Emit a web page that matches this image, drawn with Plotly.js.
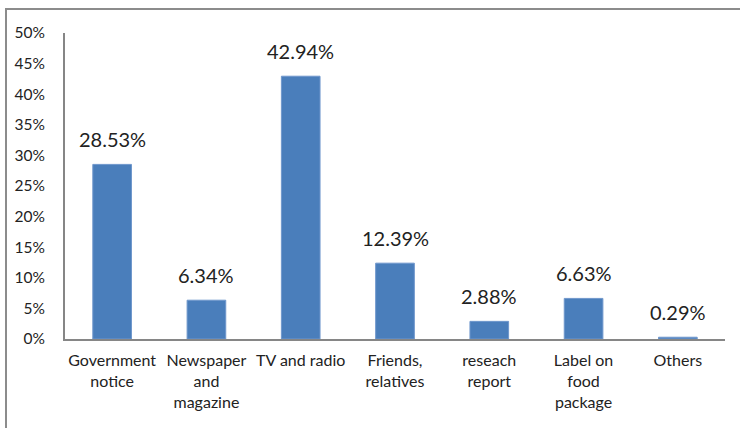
<!DOCTYPE html>
<html>
<head>
<meta charset="utf-8">
<script src="https://cdn.plot.ly/plotly-3.0.1.min.js"></script>
<style>
html,body{margin:0;padding:0;background:#fff;}
#chart{width:740px;height:428px;position:relative;}
#frame{position:absolute;left:5px;top:8px;width:760px;height:440px;border-left:2px solid #8c8c8c;border-top:2px solid #8c8c8c;pointer-events:none;}
</style>
</head>
<body>
<div id="chart"></div>
<div id="frame"></div>
<script>
const categories = ["Government<br>notice", "Newspaper<br>and<br>magazine", "TV and radio", "Friends,<br>relatives", "reseach<br>report", "Label on<br>food<br>package", "Others"];
const values = [0.2853, 0.0634, 0.4294, 0.1239, 0.0288, 0.0663, 0.0029];
const labels = ["28.53%", "6.34%", "42.94%", "12.39%", "2.88%", "6.63%", "0.29%"];

const font = "Lato, 'Open Sans', sans-serif";

const trace = {
  type: "bar",
  x: categories,
  y: values,
  marker: {color: "#4a7ebb", line: {color: "#6f97cc", width: 1}},
  hoverinfo: "none"
};

const annotations = categories.map((c, i) => ({
  x: c, y: values[i], text: labels[i], showarrow: false,
  xref: "x", yref: "y", yanchor: "bottom", yshift: 11,
  font: {family: font, size: 20, color: "#222"}
}));

const layout = {
  width: 740, height: 428,
  margin: {l: 65, r: 15, t: 33, b: 89},
  paper_bgcolor: "#fff", plot_bgcolor: "#fff",
  bargap: 0.59,
  showlegend: false,
  font: {family: font, size: 16, color: "#222"},
  xaxis: {
    type: "category",
    showline: true, linecolor: "#868686", linewidth: 2,
    showgrid: false, zeroline: false, ticks: "",
    tickangle: 0,
    ticklabelstandoff: 6,
    tickfont: {family: font, size: 16, color: "#222"}
  },
  yaxis: {
    range: [0, 0.5], dtick: 0.05, tickformat: ".0%",
    showline: true, linecolor: "#868686", linewidth: 2,
    showgrid: false, zeroline: false, ticks: "",
    ticklabelstandoff: 15,
    tickfont: {family: font, size: 15.5, color: "#222"}
  },
  annotations: annotations
};

Plotly.newPlot("chart", [trace], layout, {displayModeBar: false, staticPlot: true});
</script>
</body>
</html>
